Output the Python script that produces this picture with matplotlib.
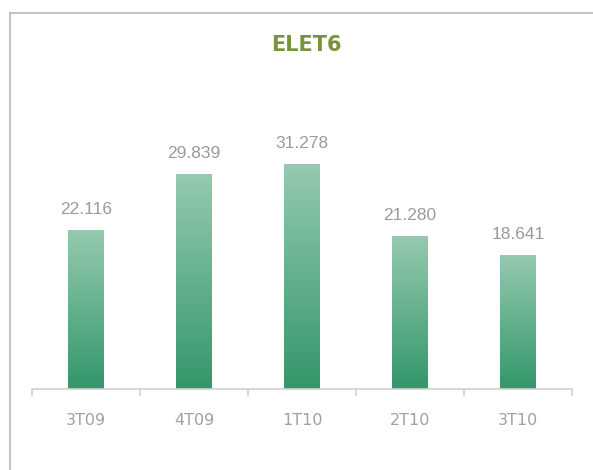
import numpy as np
import matplotlib
matplotlib.use('Agg')
import matplotlib.pyplot as plt
from matplotlib.colors import LinearSegmentedColormap
from matplotlib.lines import Line2D

categories = ["3T09", "4T09", "1T10", "2T10", "3T10"]
values = [22.116, 29.839, 31.278, 21.280, 18.641]
value_labels = ["22.116", "29.839", "31.278", "21.280", "18.641"]

fig = plt.figure(figsize=(5.93, 4.70), dpi=100)
ax = fig.add_axes([32 / 593, 1 - 389 / 470, 540 / 593, 287 / 470])

# gradient colour per bar: dark green at the base, light at the top
cmap = LinearSegmentedColormap.from_list("bar", ["#33976a", "#95caaf"])
grad = np.linspace(0, 1, 256).reshape(-1, 1)
bar_w = 0.33

for i, (v, lab) in enumerate(zip(values, value_labels)):
    ax.imshow(grad, extent=[i - bar_w / 2, i + bar_w / 2, 0, v], origin='lower',
              aspect='auto', cmap=cmap, zorder=2)
    ax.text(i, v + 1.9, lab, ha='center', va='bottom', fontsize=12.5,
            color='#9a9a9a', family='Liberation Sans')

ax.set_xlim(-0.5, len(categories) - 0.5)
ax.set_ylim(0, 40)

for s in ['top', 'right', 'left']:
    ax.spines[s].set_visible(False)
ax.spines['bottom'].set_color('#d0d0d0')
ax.spines['bottom'].set_linewidth(1.2)

ax.set_yticks([])
ax.set_xticks(np.arange(-0.5, len(categories)), minor=False)
ax.set_xticklabels([])
ax.tick_params(axis='x', which='major', length=5, color='#d0d0d0', width=1.2)
ax.set_xticks(np.arange(len(categories)), minor=True)
ax.set_xticklabels(categories, minor=True, fontsize=11.5, color='#a0a0a0')
ax.tick_params(axis='x', which='minor', length=0, pad=17)

fig.text(306 / 593, 1 - 45 / 470, "ELET6", ha='center', va='center',
         fontsize=15, fontweight='bold', color='#77933c')

# outer frame (top and left edges only visible)
fig.add_artist(Line2D([10 / 593, 1], [1 - 13 / 470, 1 - 13 / 470], color='#c4c4c4', lw=1.5))
fig.add_artist(Line2D([10 / 593, 10 / 593], [0, 1 - 13 / 470], color='#c4c4c4', lw=1.5))

fig.savefig("out.png", dpi=100)
